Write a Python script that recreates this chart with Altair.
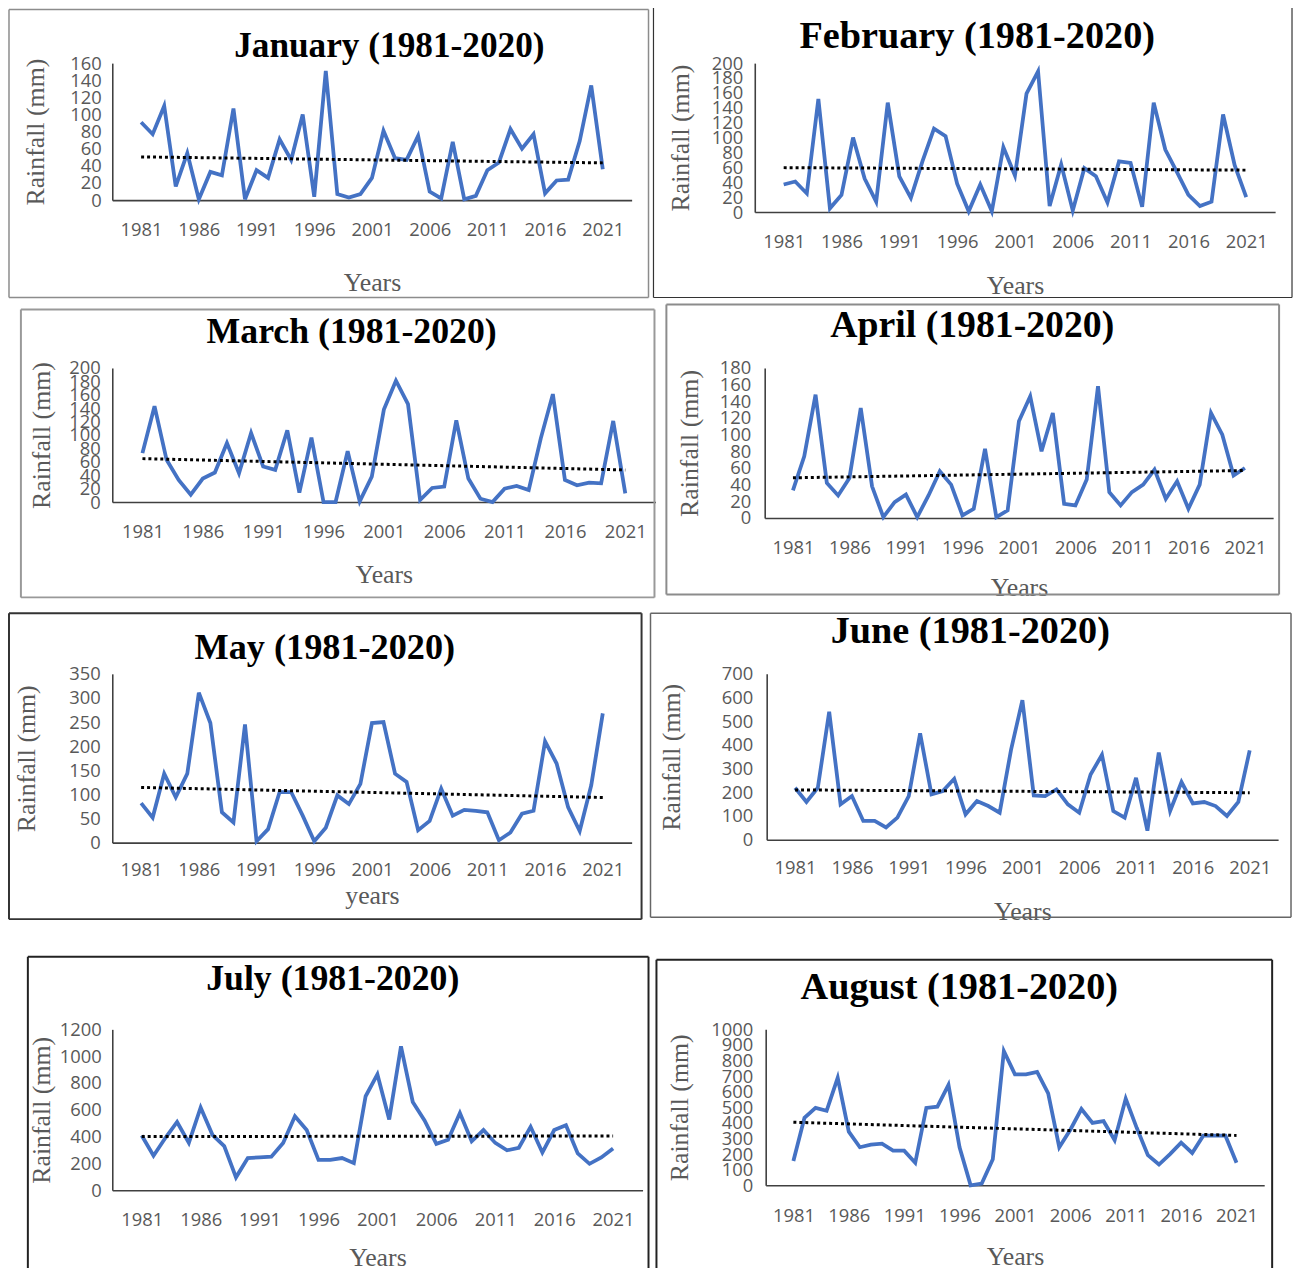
import altair as alt
import pandas as pd

years = list(range(1981, 2022))
jan = [91, 77, 110, 16, 55, 1, 33, 29, 107, 1, 35, 26, 71, 47, 100, 4, 151, 7, 3, 7, 26,
       81, 49, 47, 75, 10, 2, 68, 1, 5, 35, 44, 83, 60, 77, 8, 23, 24, 69, 134, 36]
feb = [37, 41, 25, 152, 5, 23, 100, 45, 14, 147, 48, 19, 68, 112, 102, 38, 1, 37, 1, 87, 49,
       159, 189, 8, 64, 2, 59, 48, 13, 68, 66, 7, 147, 84, 54, 23, 8, 14, 131, 63, 20]
mar = [73, 143, 63, 33, 11, 35, 44, 88, 43, 103, 53, 48, 107, 14, 96, 0, 0, 76, 1, 38, 138,
       181, 146, 3, 21, 23, 122, 35, 5, 0, 20, 24, 18, 95, 161, 33, 25, 29, 28, 121, 13]
apr = [33, 74, 148, 42, 27, 48, 132, 38, 1, 19, 28, 1, 27, 56, 40, 3, 11, 83, 1, 9, 116,
       146, 80, 126, 17, 15, 46, 158, 31, 15, 31, 40, 58, 23, 44, 11, 40, 126, 100, 51, 60]
may = [82, 52, 143, 94, 143, 311, 248, 63, 42, 245, 3, 28, 105, 105, 56, 3, 31, 98, 80, 122, 248,
       250, 143, 126, 26, 45, 112, 56, 68, 66, 63, 5, 21, 60, 66, 210, 164, 73, 24, 119, 268]
jun = [219, 159, 219, 540, 149, 184, 79, 79, 52, 93, 184, 449, 191, 205, 257, 107, 163, 142, 114, 379, 589,
       187, 184, 212, 149, 114, 275, 358, 121, 93, 261, 38, 368, 121, 243, 153, 159, 142, 100, 159, 377]
jul = [408, 257, 389, 509, 353, 617, 413, 329, 96, 240, 245, 250, 353, 552, 449, 226, 226, 240, 202, 701, 864,
       528, 1073, 658, 521, 346, 377, 576, 365, 449, 353, 298, 317, 473, 281, 449, 485, 274, 197, 245, 312]
aug = [156, 433, 496, 478, 689, 344, 244, 260, 267, 222, 222, 144, 496, 504, 644, 244, 0, 11, 167, 860, 711,
       711, 727, 589, 244, 356, 489, 400, 411, 289, 556, 367, 193, 133, 200, 273, 207, 318, 318, 318, 144]

x_ticks = list(range(1981, 2022, 5))
y_title = "Rainfall (mm)"

TICK_FONT = "Open Sans"
SERIF = "Liberation Serif"
GRAY = "#595959"

panels = [
    dict(title="January (1981-2020)", vals=jan, ymax=160, step=20, W=523, H=138, L=-104, R=540, T=-54, B=236,
         ylp=11, ytp=22, xlp=21, xtp=30, tfs=35.5, tx=279, ty=-17, xt="Years", bc="#8c8c8c", bw=1.5, bottom=True),
    dict(title="February (1981-2020)", vals=feb, ymax=200, step=20, W=524, H=150, L=-102, R=541, T=-56, B=236,
         ylp=12, ytp=18, xlp=21, xtp=21, tfs=38.5, tx=224, ty=-27, xt="Years", bc="#333333", bw=1.2, bottom=True),
    dict(title="March (1981-2020)", vals=mar, ymax=200, step=20, W=547, H=135, L=-92, R=546, T=-59, B=231,
         ylp=12, ytp=14, xlp=21, xtp=21, tfs=36, tx=241, ty=-36, xt="Years", bc="#999999", bw=2, bottom=True),
    dict(title="April (1981-2020)", vals=apr, ymax=180, step=20, W=512, H=151, L=-99, R=518, T=-64, B=228,
         ylp=14, ytp=17, xlp=21, xtp=18, tfs=38, tx=209, ty=-42, xt="Years", bc="#8c8c8c", bw=2, bottom=True),
    dict(title="May (1981-2020)", vals=may, ymax=350, step=50, W=523, H=170, L=-104, R=533, T=-61, B=247,
         ylp=12, ytp=30, xlp=18, xtp=4, tfs=36.5, tx=214, ty=-26, xt="years", bc="#333333", bw=2, bottom=True),
    dict(title="June (1981-2020)", vals=jun, ymax=700, step=100, W=515, H=167, L=-117, R=528, T=-61, B=245,
         ylp=14, ytp=37, xlp=19, xtp=22, tfs=38.5, tx=205, ty=-43, xt="Years", bc="#666666", bw=1.5, bottom=True),
    dict(title="July (1981-2020)", vals=jul, ymax=1200, step=200, W=534, H=162, L=-85, R=540, T=-73, B=262,
         ylp=11, ytp=5, xlp=21, xtp=15, tfs=36, tx=222, ty=-51, xt="Years", bc="#222222", bw=2, bottom=False),
    dict(title="August (1981-2020)", vals=aug, ymax=1000, step=100, W=502, H=157, L=-110, R=510, T=-70, B=262,
         ylp=13, ytp=18, xlp=21, xtp=19, tfs=38.5, tx=195, ty=-43, xt="Years", bc="#222222", bw=2, bottom=False),
]

one = alt.Data(values=[{"k": 1}])


def make_panel(p):
    df = pd.DataFrame({"year": years, "rain": p["vals"]})
    x = alt.X("year:Q",
              scale=alt.Scale(domain=[1978.5, 2023.5], nice=False, zero=False),
              axis=alt.Axis(values=x_ticks, format="d", title=p["xt"], grid=False, ticks=False, tickSize=0,
                            labelPadding=p["xlp"], titlePadding=p["xtp"], labelFlush=False, labelOverlap=False,
                            domainColor="#404040", domainWidth=1.6,
                            labelColor=GRAY, labelFont=TICK_FONT, labelFontSize=18.5,
                            titleFont=SERIF, titleFontSize=26, titleFontWeight="normal", titleColor=GRAY))
    y = alt.Y("rain:Q",
              scale=alt.Scale(domain=[0, p["ymax"]], nice=False),
              axis=alt.Axis(values=list(range(0, p["ymax"] + 1, p["step"])), format="d", title=y_title,
                            grid=False, ticks=False, tickSize=0, labelPadding=p["ylp"], titlePadding=p["ytp"],
                            labelOverlap=False, labelFlush=False,
                            domainColor="#404040", domainWidth=1.6,
                            labelColor=GRAY, labelFont=TICK_FONT, labelFontSize=18.5,
                            titleFont=SERIF, titleFontSize=26, titleFontWeight="normal", titleColor=GRAY))
    base = alt.Chart(df)
    line = base.mark_line(color="#4472C4", strokeWidth=3.8, strokeJoin="miter").encode(x=x, y=y)
    trend = base.transform_regression("year", "rain", extent=[1981, 2021]).mark_line(
        color="black", strokeDash=[3, 3], strokeWidth=3
    ).encode(x=x, y=y)

    L, R, T, B = p["L"], p["R"], p["T"], p["B"]
    st = dict(color=p["bc"], strokeWidth=p["bw"])
    parts = [
        alt.Chart(one).mark_rule(**st).encode(x=alt.value(L), y=alt.value(T), y2=alt.value(B)),
        alt.Chart(one).mark_rule(**st).encode(x=alt.value(R), y=alt.value(T), y2=alt.value(B)),
        alt.Chart(one).mark_rule(**st).encode(y=alt.value(T), x=alt.value(L), x2=alt.value(R)),
    ]
    if p["bottom"]:
        parts.append(alt.Chart(one).mark_rule(**st).encode(y=alt.value(B), x=alt.value(L), x2=alt.value(R)))
    title = alt.Chart(one).mark_text(
        text=p["title"], font=SERIF, fontSize=p["tfs"], fontWeight="bold", color="black",
        align="center", baseline="middle"
    ).encode(x=alt.value(p["tx"]), y=alt.value(p["ty"]))

    return alt.layer(*parts, title, line, trend).properties(width=p["W"], height=p["H"])


c = [make_panel(p) for p in panels]
row1 = alt.hconcat(c[0], c[1], spacing=3)
row2 = alt.hconcat(c[2], c[3], spacing=10)
row3 = alt.hconcat(c[4], c[5], spacing=7)
row4 = alt.hconcat(c[6], c[7], spacing=6)

chart = alt.vconcat(
    alt.vconcat(alt.vconcat(row1, row2, spacing=5), row3, spacing=11),
    row4, spacing=31,
    padding={"top": -6, "left": 0, "right": 0, "bottom": 0}, background="white",
).configure_view(stroke=None).configure_axis(labelOverlap=False)

chart.save("out.html", embed_options={"renderer": "svg", "actions": False})
